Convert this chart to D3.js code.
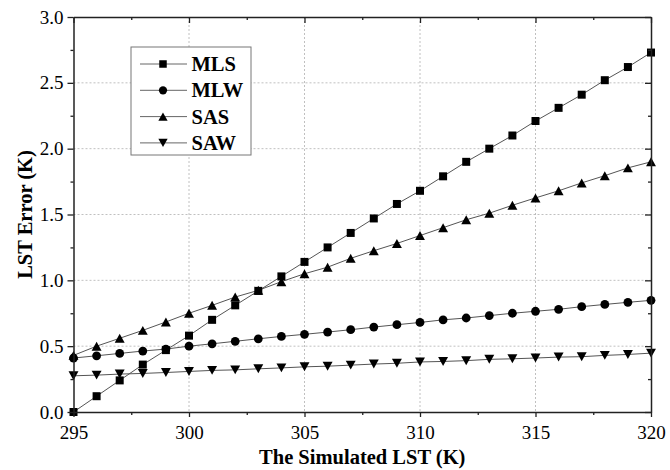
<!DOCTYPE html>
<html>
<head>
<meta charset="utf-8">
<script src="https://cdn.jsdelivr.net/npm/d3@7"></script>
<style>
  html, body { margin: 0; padding: 0; background: #fff; }
  svg { display: block; }
</style>
</head>
<body>
<svg id="chart" width="670" height="470"></svg>
<script>
const temps = [295,296,297,298,299,300,301,302,303,304,305,306,307,308,309,310,311,312,313,314,315,316,317,318,319,320];
const MLS = [0.00,0.12,0.24,0.36,0.47,0.58,0.70,0.81,0.92,1.03,1.14,1.25,1.36,1.47,1.58,1.68,1.79,1.90,2.00,2.10,2.21,2.31,2.41,2.52,2.62,2.73];
const MLW = [0.41,0.427,0.445,0.463,0.478,0.50,0.518,0.537,0.556,0.574,0.59,0.607,0.625,0.645,0.663,0.68,0.70,0.714,0.732,0.75,0.765,0.78,0.80,0.817,0.833,0.848];
const SAS = [0.43,0.50,0.56,0.62,0.684,0.75,0.81,0.873,0.924,0.99,1.05,1.10,1.167,1.225,1.28,1.34,1.40,1.46,1.51,1.57,1.626,1.68,1.74,1.795,1.854,1.90];
const SAW = [0.275,0.28,0.288,0.293,0.30,0.308,0.316,0.32,0.328,0.335,0.343,0.348,0.356,0.364,0.37,0.38,0.384,0.39,0.40,0.404,0.41,0.417,0.42,0.43,0.437,0.447];
const seriesNames = ["MLS","MLW","SAS","SAW"];
const seriesMarkers = ["square","circle","triangleUp","triangleDown"];
const xTicks = [295,300,305,310,315,320];
const xMinorTicks = [297.5,302.5,307.5,312.5,317.5];
const yTicks = [0.0,0.5,1.0,1.5,2.0,2.5,3.0];
const yMinorTicks = [0.25,0.75,1.25,1.75,2.25,2.75];
const xTitle = "The Simulated LST (K)";
const yTitle = "LST Error (K)";

const seriesData = [MLS, MLW, SAS, SAW];

const svg = d3.select("#chart");
const margin = {left: 73.5, right: 19, top: 17, bottom: 58};
const W = 670, H = 470;
const w = W - margin.left - margin.right;
const h = H - margin.top - margin.bottom;

const x = d3.scaleLinear().domain([295, 320]).range([0, w]);
const y = d3.scaleLinear().domain([0, 3]).range([h, 0]);

const g = svg.append("g").attr("transform", `translate(${margin.left},${margin.top})`);

// grid
const grid = g.append("g").attr("class","grid");
grid.selectAll("line.vx").data(xTicks.filter(t => t > 295 && t < 320)).join("line")
  .attr("x1", d => x(d)).attr("x2", d => x(d)).attr("y1", 0).attr("y2", h)
  .attr("stroke", "#b0b0b0").attr("stroke-width", 0.8).attr("stroke-dasharray", "2,2");
grid.selectAll("line.hy").data(yTicks.filter(t => t > 0 && t < 3)).join("line")
  .attr("y1", d => y(d)).attr("y2", d => y(d)).attr("x1", 0).attr("x2", w)
  .attr("stroke", "#b0b0b0").attr("stroke-width", 0.8).attr("stroke-dasharray", "2,2");

function markerPath(type, s) {
  const p = d3.path();
  if (type === "square") {
    const a = s * 0.5;
    p.rect(-a, -a, 2*a, 2*a);
  } else if (type === "circle") {
    const r = s * 0.55;
    p.moveTo(r, 0); p.arc(0, 0, r, 0, 2*Math.PI);
  } else if (type === "triangleUp") {
    const hw = s * 0.62, hh = s * 0.56;
    p.moveTo(0, -hh); p.lineTo(hw, hh); p.lineTo(-hw, hh); p.closePath();
  } else {
    const hw = s * 0.62, hh = s * 0.56;
    p.moveTo(0, hh); p.lineTo(hw, -hh); p.lineTo(-hw, -hh); p.closePath();
  }
  return p.toString();
}

const line = d3.line().x((d,i) => x(temps[i])).y(d => y(d));

const plot = g.append("g");
seriesData.forEach((vals, si) => {
  plot.append("path").datum(vals).attr("d", line)
    .attr("fill", "none").attr("stroke", "#555").attr("stroke-width", 1);
});
seriesData.forEach((vals, si) => {
  plot.append("g").selectAll("path").data(vals).join("path")
    .attr("transform", (d,i) => `translate(${x(temps[i])},${y(d)})`)
    .attr("d", markerPath(seriesMarkers[si], 8))
    .attr("fill", "#000");
});

// axes
const fontFam = "'Liberation Serif', 'Times New Roman', serif";
function styleAxis(sel) {
  sel.select(".domain").attr("stroke", "#222").attr("stroke-width", 1.5);
  sel.selectAll(".tick line").attr("stroke", "#222").attr("stroke-width", 1.3);
  sel.selectAll(".tick text").style("font-family", fontFam).style("font-size", "19px").attr("fill", "#000");
}

const axBottom = g.append("g").attr("transform", `translate(0,${h})`)
  .call(d3.axisBottom(x).tickValues(xTicks).tickSizeInner(5).tickSizeOuter(0).tickPadding(7).tickFormat(d3.format("d")));
styleAxis(axBottom);
axBottom.selectAll(".tick text").attr("dy", "0.8em");
const axBottomMinor = g.append("g").attr("transform", `translate(0,${h})`)
  .call(d3.axisBottom(x).tickValues(xMinorTicks).tickSizeInner(3).tickSizeOuter(0).tickFormat(""));
styleAxis(axBottomMinor); axBottomMinor.select(".domain").remove();

const axLeft = g.append("g")
  .call(d3.axisLeft(y).tickValues(yTicks).tickSizeInner(6).tickSizeOuter(0).tickPadding(4).tickFormat(d3.format(".1f")));
styleAxis(axLeft);
const axLeftMinor = g.append("g")
  .call(d3.axisLeft(y).tickValues(yMinorTicks).tickSizeInner(3).tickSizeOuter(0).tickFormat(""));
styleAxis(axLeftMinor); axLeftMinor.select(".domain").remove();

const axTop = g.append("g")
  .call(d3.axisTop(x).tickValues(xTicks).tickSizeInner(-6).tickSizeOuter(0).tickFormat(""));
styleAxis(axTop);
const axTopMinor = g.append("g")
  .call(d3.axisTop(x).tickValues(xMinorTicks).tickSizeInner(-3).tickSizeOuter(0).tickFormat(""));
styleAxis(axTopMinor); axTopMinor.select(".domain").remove();

const axRight = g.append("g").attr("transform", `translate(${w},0)`)
  .call(d3.axisRight(y).tickValues(yTicks).tickSizeInner(-6).tickSizeOuter(0).tickFormat(""));
styleAxis(axRight);
const axRightMinor = g.append("g").attr("transform", `translate(${w},0)`)
  .call(d3.axisRight(y).tickValues(yMinorTicks).tickSizeInner(-3).tickSizeOuter(0).tickFormat(""));
styleAxis(axRightMinor); axRightMinor.select(".domain").remove();

// titles
svg.append("text").attr("x", margin.left + w/2).attr("y", 463.5)
  .attr("text-anchor", "middle").style("font-family", fontFam).attr("font-weight", "bold")
  .style("font-size", "20.5px").text(xTitle);
svg.append("text").attr("transform", `translate(32,${margin.top + h/2}) rotate(-90)`)
  .attr("text-anchor", "middle").style("font-family", fontFam).attr("font-weight", "bold")
  .style("font-size", "20.5px").text(yTitle);

// legend
const legend = svg.append("g");
legend.append("rect").attr("x", 131).attr("y", 47).attr("width", 120).attr("height", 108)
  .attr("fill", "#fff").attr("stroke", "#777").attr("stroke-width", 1);
seriesNames.forEach((name, i) => {
  const cy = 64 + i * 26.3;
  legend.append("line").attr("x1", 140).attr("x2", 187).attr("y1", cy).attr("y2", cy)
    .attr("stroke", "#666").attr("stroke-width", 1);
  legend.append("path").attr("transform", `translate(163,${cy})`)
    .attr("d", markerPath(seriesMarkers[i], 7.5)).attr("fill", "#000");
  legend.append("text").attr("x", 191.5).attr("y", cy + 7)
    .style("font-family", fontFam).attr("font-weight", "bold").style("font-size", "20.5px")
    .text(name);
});
</script>
</body>
</html>
